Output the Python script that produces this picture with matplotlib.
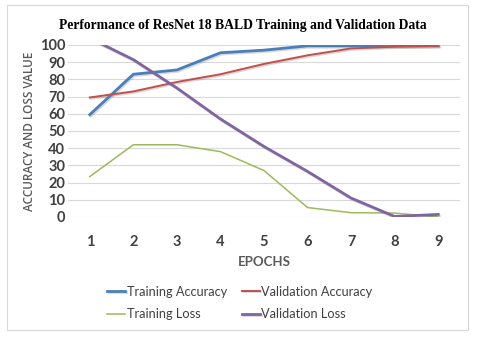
import numpy as np
import matplotlib
matplotlib.use("Agg")
import matplotlib.pyplot as plt
import matplotlib.patheffects as pe
from matplotlib.patches import Rectangle

# data
epochs = [1, 2, 3, 4, 5, 6, 7, 8, 9]
train_acc = [59.5, 83, 85.5, 95.5, 97, 99.5, 99.5, 99.5, 99.5]
val_acc = [69.5, 73, 78.5, 83, 89, 94, 98, 99, 99.5]
train_loss = [23.5, 42, 42, 38, 27, 5.5, 2.5, 2.3, 0]
val_loss = [104, 91.5, 75, 57, 41, 26.5, 11, 0.3, 1.5]

fig = plt.figure(figsize=(4.8, 3.39), dpi=100)
fig.patches.append(Rectangle((7/480, 1-330/339), 461/480, 325/339,
                             transform=fig.transFigure, fill=False,
                             edgecolor="#d9d9d9", lw=0.8))
ax = fig.add_axes([68/480, 1-217/339, 392/480, 172/339])

shadow = [pe.SimpleLineShadow(offset=(0.8, -1.0), shadow_color="gray", alpha=0.3), pe.Normal()]
l1, = ax.plot(epochs, train_acc, color="#4A7EBB", lw=2.0, label="Training Accuracy", path_effects=shadow)
l2, = ax.plot(epochs, val_acc, color="#C0504D", lw=1.4, label="Validation Accuracy", path_effects=shadow)
l3, = ax.plot(epochs, train_loss, color="#9BBB59", lw=1.1, label="Training Loss")
l4, = ax.plot(epochs, val_loss, color="#8064A2", lw=2.0, label="Validation Loss", path_effects=shadow)

ax.set_xlim(0.5, 9.5)
ax.set_ylim(0, 100)
ax.set_yticks(range(0, 101, 10))
ax.set_xticks(epochs)
ax.grid(axis="y", color="#d9d9d9", lw=0.8)
ax.set_axisbelow(True)
for s in ax.spines.values():
    s.set_visible(False)
ax.tick_params(length=0, labelsize=10.5, labelcolor="#404040", pad=2)
for t in ax.get_xticklabels() + ax.get_yticklabels():
    t.set_fontweight("bold")
    t.set_family("Lato")
ax.tick_params(axis="x", pad=13)

ax.set_ylabel("ACCURACY AND LOSS VALUE", family="Open Sans", fontweight="semibold",
              fontsize=8.5, color="#595959", labelpad=3)
ax.set_xlabel("EPOCHS", family="Lato", fontweight="bold", fontsize=9.5, color="#595959", labelpad=5)
fig.text(0.505, 1-25/339, "Performance of ResNet 18 BALD Training and Validation Data",
         ha="center", va="center", family="Liberation Serif", fontweight="bold", fontsize=9.8)

leg = fig.legend([l1, l3, l2, l4], [l.get_label() for l in (l1, l3, l2, l4)],
                 loc="center", bbox_to_anchor=(0.5, 1-303/339), ncol=2, frameon=False,
                 handlelength=1.4, handletextpad=0.1, columnspacing=1.2, labelspacing=0.85,
                 prop={"family": "Lato", "size": 9.2})
for t in leg.get_texts():
    t.set_color("#404040")

fig.savefig("out.png", dpi=100)
